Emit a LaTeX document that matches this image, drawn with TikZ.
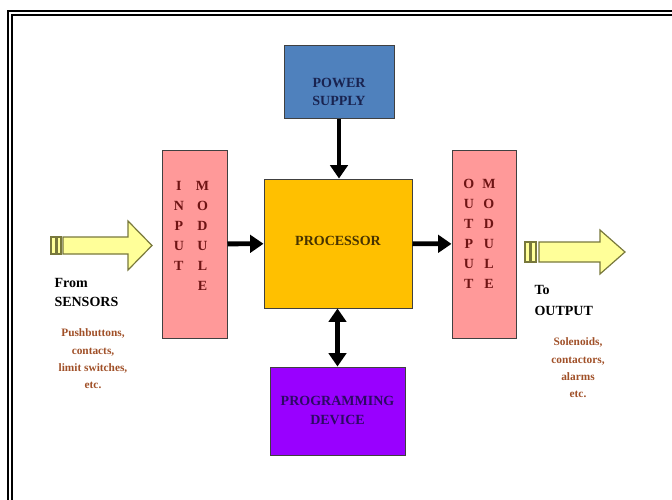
\documentclass[tikz,border=0pt]{standalone}
\usepackage{fontspec}
\setmainfont{Liberation Serif}
\usetikzlibrary{arrows.meta}

\definecolor{psblue}{RGB}{79,129,189}
\definecolor{procgold}{RGB}{255,192,0}
\definecolor{modpink}{RGB}{255,153,153}
\definecolor{pdpurple}{RGB}{153,0,255}
\definecolor{navytxt}{RGB}{25,35,80}
\definecolor{proctxt}{RGB}{70,50,0}
\definecolor{modtxt}{RGB}{110,20,20}
\definecolor{pdtxt}{RGB}{45,10,100}
\definecolor{listbrown}{RGB}{160,80,40}
\definecolor{blkyellow}{RGB}{255,255,153}
\definecolor{blkedge}{RGB}{120,120,60}

\tikzset{every picture/.style={line width=0.75pt}}
\tikzset{
  unit/.style={draw=black!75, line width=0.75pt, inner sep=0pt},
  unittxt/.style={font=\bfseries\fontsize{10.5}{14}\selectfont, align=center},
  bus/.style={line width=3.6pt, -{Triangle[length=10pt,width=13pt]}},
  dbus/.style={line width=3.6pt, {Triangle[length=10pt,width=13pt]}-{Triangle[length=10pt,width=13pt]}},
  fatarrow/.style={draw=blkedge, fill=blkyellow, line width=0.9pt, line join=miter},
  sidetxt/.style={font=\bfseries\fontsize{10.5}{14}\selectfont, align=left, anchor=north west, inner sep=0pt},
  listtxt/.style={text=listbrown, font=\bfseries\fontsize{8.5}{13}\selectfont, align=center}
}

\begin{document}
\begin{tikzpicture}[x=0.75pt,y=0.75pt,yscale=-1,xscale=1]
  \useasboundingbox (0,0) rectangle (672,500);

  % double frame
  \draw [line width=1.5pt] (8,500) -- (8,11) -- (672,11) ;
  \draw [line width=1.5pt] (12,500) -- (12,15) -- (672,15) ;

  % boxes
  \node [unit, fill=psblue, minimum width=82.5pt, minimum height=54.75pt] (ps) at (339,81.5) {};
  \node [unit, fill=procgold, minimum width=111pt, minimum height=96.75pt] (proc) at (338,243.5) {};
  \node [unit, fill=modpink, minimum width=48.75pt, minimum height=141pt] (inmod) at (194.5,244) {};
  \node [unit, fill=modpink, minimum width=48pt, minimum height=141pt] (outmod) at (484,244) {};
  \node [unit, fill=pdpurple, minimum width=101.25pt, minimum height=66pt] (pd) at (337.5,411) {};

  % box texts
  \node [unittxt, text=navytxt] (pstxt) at (339,92) {POWER\\SUPPLY};
  \node [unittxt, text=proctxt] (proctxt) at (338,241) {PROCESSOR};
  \node [unittxt, text=pdtxt] (pdtxt) at (337.5,410.5) {PROGRAMMING\\DEVICE};
  \node [unittxt, text=modtxt, inner sep=0pt] (inmodtxt) at (191.5,236) {\fontsize{10.5}{15}\selectfont
    \begin{tabular}{@{}c@{\hspace{9pt}}c@{}} I&M\\ N&O\\ P&D\\ U&U\\ T&L\\ &E \end{tabular}};
  \node [unittxt, text=modtxt, inner sep=0pt] (outmodtxt) at (479.5,234) {\fontsize{10.5}{15}\selectfont
    \begin{tabular}{@{}c@{\hspace{6pt}}c@{}} O&M\\ U&O\\ T&D\\ P&U\\ U&L\\ T&E \end{tabular}};

  % connectors
  \draw [bus] (ps.south) -- (ps.south |- proc.north) ;
  \draw [bus] (inmod) -- (proc) ;
  \draw [bus] (proc) -- (outmod) ;
  \draw [dbus] (pd.north |- proc.south) -- (pd.north) ;

  % block arrow from sensors
  \draw [fatarrow] (51,237) rectangle (56,254) ;
  \draw [fatarrow] (57,237) rectangle (61,254) ;
  \draw [fatarrow] (63,237) -- (128,237) -- (128,221) -- (152,245.5) -- (128,270) -- (128,254) -- (63,254) -- cycle ;
  % block arrow to output
  \draw [fatarrow] (525,242) rectangle (530,262) ;
  \draw [fatarrow] (531,242) rectangle (536,262) ;
  \draw [fatarrow] (539,242) -- (600,242) -- (600,230) -- (625,252) -- (600,274) -- (600,262) -- (539,262) -- cycle ;

  % side texts
  \node [sidetxt] (fromtxt) at (54,278) {From\\[0pt]SENSORS};
  \node [listtxt] (inlist) at (93,359) {Pushbuttons,\\contacts,\\limit switches,\\etc.};
  \node [sidetxt] (totxt) at (534,285) {To\\[1.5pt]OUTPUT};
  \node [listtxt] (outlist) at (578,368) {Solenoids,\\contactors,\\alarms\\etc.};

\end{tikzpicture}
\end{document}
